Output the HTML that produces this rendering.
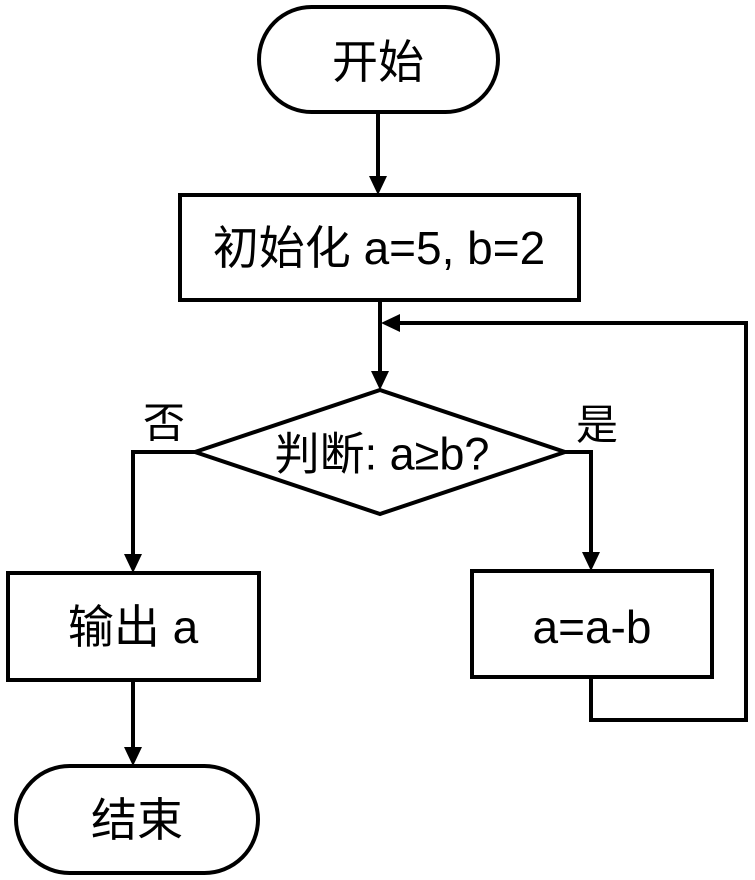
<!DOCTYPE html>
<html><head><meta charset="utf-8"><style>
html,body{margin:0;padding:0;background:#fff;}
svg{display:block;}
text{font-family:"Liberation Sans","Noto Sans CJK SC",sans-serif;fill:#000;}
</style></head><body>
<svg width="755" height="880" viewBox="0 0 755 880" xmlns="http://www.w3.org/2000/svg">
<g fill="none" stroke="#000" stroke-width="4">
<rect x="259" y="7" width="239" height="105" rx="52.5" fill="#fff"/>
<rect x="180" y="195" width="399" height="105" fill="#fff"/>
<polygon points="195,452 380,390 565,452 380,514" fill="#fff"/>
<rect x="8" y="573" width="251" height="107" fill="#fff"/>
<rect x="472" y="571" width="240" height="106" fill="#fff"/>
<rect x="16" y="766" width="242" height="107" rx="53.5" fill="#fff"/>
<line x1="378" y1="112" x2="378" y2="178"/>
<line x1="380" y1="300" x2="380" y2="373"/>
<polyline points="195,452 133,452 133,556"/>
<polyline points="565,452 591,452 591,554"/>
<line x1="133" y1="680" x2="133" y2="749"/>
<polyline points="591,677 591,720 746,720 746,323 398,323"/>
</g>
<g fill="#000">
<polygon points="369,176 387,176 378,195"/>
<polygon points="371,371 389,371 380,390"/>
<polygon points="124,554 142,554 133,573"/>
<polygon points="582,552 600,552 591,571"/>
<polygon points="124,747 142,747 133,766"/>
<polygon points="400,314 400,332 381,323"/>
</g>
<g font-size="46" text-anchor="middle" dominant-baseline="central">
<text x="378" y="62">开始</text>
<text x="379" y="248">初始化 a=5, b=2</text>
<text x="382" y="454" font-size="45">判断: a≥b?</text>
<text x="133" y="627">输出 a</text>
<text x="592" y="627">a=a-b</text>
<text x="137" y="820">结束</text>
<text x="164" y="423" font-size="42">否</text>
<text x="597" y="425" font-size="42">是</text>
</g>
</svg>
</body></html>
